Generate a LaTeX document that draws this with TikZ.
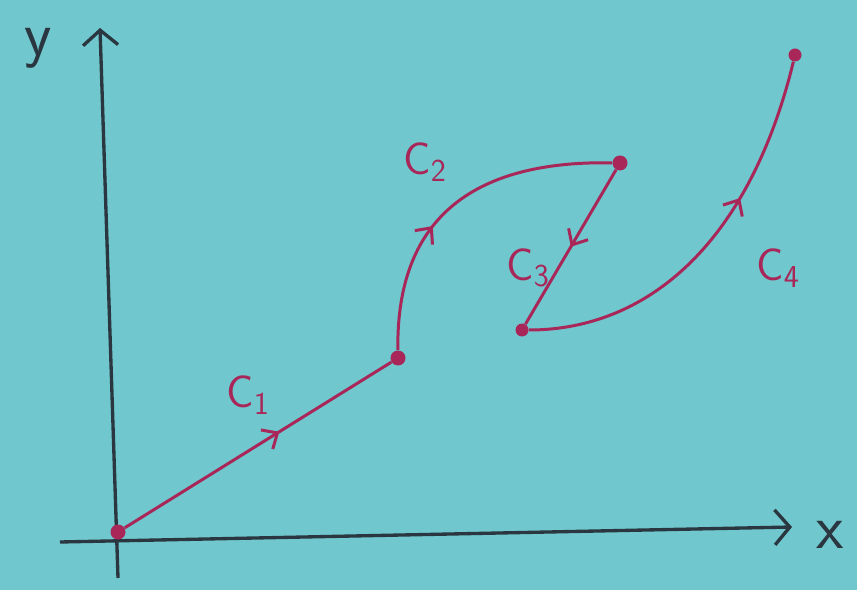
\documentclass[tikz,border=0pt]{standalone}
\usepackage{xcolor}
\usepackage{tikz}
\usetikzlibrary{positioning, arrows.meta, decorations.markings, calc}

\definecolor{paper}{RGB}{112,200,206}
\definecolor{ink}{RGB}{42,54,64}
\definecolor{pen}{RGB}{168,38,88}

\begin{document}
\begin{tikzpicture}[
  x=0.02cm, y=-0.02cm,
  dot/.style={
    circle,
    fill=pen,
    inner sep=0pt,
    minimum size=0.3cm
  },
  axis/.style={ink, line width=1.9pt, -{Straight Barb[length=3mm, width=7mm]}},
  curve/.style={pen, line width=1.7pt},
  midarrow/.style={postaction={decorate, decoration={markings,
    mark=at position #1 with {\arrow{Straight Barb[length=2.5mm, width=4.5mm]}}}}},
  lbl/.style={pen, font=\sffamily\fontsize{26}{28}\selectfont},
  axlbl/.style={ink, font=\sffamily\fontsize{36}{38}\selectfont}
]

  % Background
  \fill[paper] (0,0) rectangle (857,590);
  \useasboundingbox (0,0) rectangle (857,590);

  % Axes
  \coordinate (xstart) at (60,542);
  \coordinate (xend)   at (792,527);
  \coordinate (ystart) at (118,578);
  \coordinate (yend)   at (100,28);
  \draw [axis] (xstart) -- (xend);
  \draw [axis] (ystart) -- (yend);
  \node (xlbl) [axlbl] at (830,535) {x};
  \node (ylbl) [axlbl] at (38,48)   {y};

  % Nodes
  \node (O)  [dot] at (118,532) {};
  \node (P1) [dot] at (398,358) {};
  \node (P2) [dot] at (620,163) {};
  \node (P3) [dot, minimum size=0.26cm] at (522,330) {};
  \node (P4) [dot, minimum size=0.26cm] at (795,55)  {};

  % Curves
  \draw [curve, midarrow=0.58] (O) -- (P1);
  \draw [curve, midarrow=0.4]  (P1) .. controls (396,230) and (460,160) .. (P2);
  \draw [curve, midarrow=0.5]  (P2) -- (P3);
  \draw [curve, midarrow=0.64] (P3) .. controls (650,330) and (750,240) .. (P4);

  % Labels
  \node (c1) [lbl] at (248,395) {C\textsubscript{1}};
  \node (c2) [lbl] at (425,162) {C\textsubscript{2}};
  \node (c3) [lbl] at (528,268) {C\textsubscript{3}};
  \node (c4) [lbl] at (778,268) {C\textsubscript{4}};

\end{tikzpicture}
\end{document}
